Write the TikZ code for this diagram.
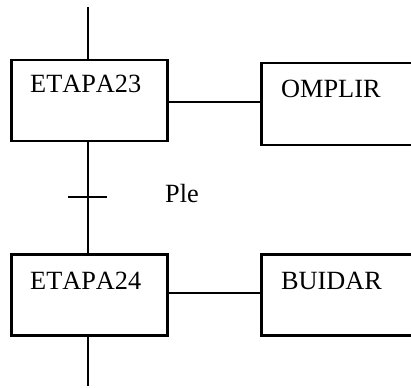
\documentclass[tikz,border=0pt]{standalone}
\usepackage{fontspec}
\setmainfont[Kerning=Off]{Liberation Serif}
\begin{document}
\begin{tikzpicture}[x=1pt,y=-1pt,
  stepbox/.style={draw,line width=2.5pt,inner sep=0pt,anchor=north west},
  conn/.style={line width=1.4pt},
  lbl/.style={inner sep=0pt,anchor=base west,font=\fontsize{26.3}{30}\selectfont}]
\useasboundingbox (0,0) rectangle (411,387);
\clip (0,0) rectangle (411,387);
% boxes
\node[stepbox,minimum width=156pt,minimum height=81pt] (E23) at (10,59) {};
\node[stepbox,minimum width=160pt,minimum height=82pt] (OMP) at (260,62) {};
\node[stepbox,minimum width=156pt,minimum height=81pt] (E24) at (10,253) {};
\node[stepbox,minimum width=160pt,minimum height=81pt] (BUI) at (260,253) {};
% texts
\node[lbl] (tE23) at (30,93) {ETAPA23};
\node[lbl] (tOMP) at (281,98) {OMPLIR};
\node[lbl] (tE24) at (30,289) {ETAPA24};
\node[lbl] (tBUI) at (281,289) {BUIDAR};
\node[lbl] (ple) at (165,202) {Ple};
% connectors
\coordinate (top) at (88,7);
\coordinate (bot) at (88,386);
\coordinate (tl) at (68,197);
\coordinate (tr) at (107,197);
\draw[conn] (top) -- (top |- E23.north);
\draw[conn] (top |- E23.south) -- (top |- E24.north);
\draw[conn] (top |- E24.south) -- (bot);
\draw[conn] (tl) -- (tr);
\draw[conn] (E23.east |- 0,102) -- (OMP.west |- 0,102);
\draw[conn] (E24.east |- 0,293) -- (BUI.west |- 0,293);
\end{tikzpicture}
\end{document}
